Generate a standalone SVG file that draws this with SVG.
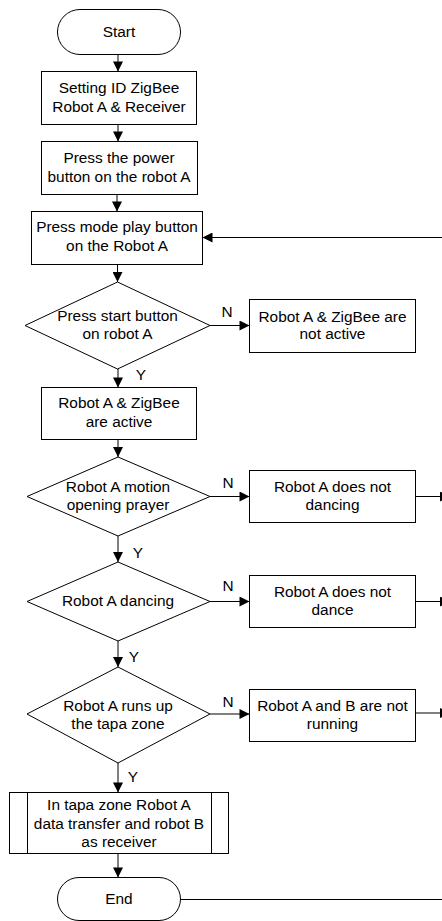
<svg xmlns="http://www.w3.org/2000/svg" width="442" height="921" viewBox="0 0 442 921">
<defs>
<marker id="ah" markerUnits="userSpaceOnUse" markerWidth="11" markerHeight="10" refX="10" refY="5" orient="auto" viewBox="0 0 10 10">
<path d="M0,0 L10,5 L0,10 z" fill="#000"/>
</marker>
</defs>
<style>
.s{fill:#fff;stroke:#000;stroke-width:1}
.t{font-family:"Liberation Sans",Arial,sans-serif;font-size:15.4px;fill:#000;text-anchor:middle}
.c{fill:none;stroke:#000;stroke-width:1}
.a{marker-end:url(#ah)}
</style>
<rect width="442" height="921" fill="#fff"/>
<g id="connectors">
<line class="c a" x1="118" y1="54.5" x2="118" y2="71.5"/>
<line class="c a" x1="118" y1="124.5" x2="118" y2="141.5"/>
<line class="c a" x1="117" y1="194.5" x2="117" y2="211.5"/>
<line class="c a" x1="117.5" y1="264.5" x2="117.5" y2="282"/>
<line class="c a" x1="210" y1="325.5" x2="249.5" y2="325.5"/>
<line class="c a" x1="118" y1="369" x2="118" y2="387.5"/>
<line class="c a" x1="118" y1="439.5" x2="118" y2="457"/>
<line class="c a" x1="210" y1="496.5" x2="249.5" y2="496.5"/>
<line class="c a" x1="118" y1="536" x2="118" y2="562"/>
<line class="c a" x1="210" y1="601.5" x2="249.5" y2="601.5"/>
<line class="c a" x1="118" y1="641" x2="118" y2="667"/>
<line class="c a" x1="210" y1="714" x2="249.5" y2="714"/>
<line class="c a" x1="118" y1="763" x2="118" y2="792.5"/>
<line class="c a" x1="118" y1="853.5" x2="118" y2="877.5"/>
<line class="c a" x1="415.5" y1="496.5" x2="450" y2="496.5"/>
<line class="c a" x1="415.5" y1="601.5" x2="450" y2="601.5"/>
<line class="c a" x1="415.5" y1="713" x2="450" y2="713"/>
<line class="c" x1="180.5" y1="899.5" x2="442" y2="899.5"/>
<line class="c a" x1="442" y1="237.5" x2="202.5" y2="237.5"/>
<text class="t" x="227" y="317">N</text>
<text class="t" x="141" y="380">Y</text>
<text class="t" x="228" y="488">N</text>
<text class="t" x="138" y="558">Y</text>
<text class="t" x="228" y="591">N</text>
<text class="t" x="134" y="662">Y</text>
<text class="t" x="228" y="707">N</text>
<text class="t" x="133" y="782">Y</text>
</g>
<g id="start">
<rect class="s" x="57.5" y="9.5" width="123" height="45" rx="22.5"/>
<text class="t" x="119" y="37">Start</text>
</g>
<g id="setting">
<rect class="s" x="41.5" y="71.5" width="155" height="53"/>
<text class="t" x="119" y="93">Setting ID ZigBee</text>
<text class="t" x="119" y="112">Robot A &amp; Receiver</text>
</g>
<g id="power">
<rect class="s" x="41.5" y="141.5" width="156" height="53"/>
<text class="t" x="119" y="163">Press the power</text>
<text class="t" x="119" y="182">button on the robot A</text>
</g>
<g id="mode">
<rect class="s" x="31.5" y="211.5" width="171" height="53"/>
<text class="t" x="117" y="232">Press mode play button</text>
<text class="t" x="117" y="251">on the Robot A</text>
</g>
<g id="d_start">
<polygon class="s" points="117.5,282 210,325.5 117.5,369 25,325.5"/>
<text class="t" x="117.5" y="321">Press start button</text>
<text class="t" x="117.5" y="339">on robot A</text>
</g>
<g id="not_active">
<rect class="s" x="249.5" y="299.5" width="166" height="53"/>
<text class="t" x="332.5" y="322">Robot A &amp; ZigBee are</text>
<text class="t" x="332.5" y="339">not active</text>
</g>
<g id="active">
<rect class="s" x="41.5" y="387.5" width="155" height="52"/>
<text class="t" x="119" y="408">Robot A &amp; ZigBee</text>
<text class="t" x="119" y="427">are active</text>
</g>
<g id="d_prayer">
<polygon class="s" points="118,457 210,496.5 118,536 27,496.5"/>
<text class="t" x="118" y="492">Robot A motion</text>
<text class="t" x="118" y="510">opening prayer</text>
</g>
<g id="not_dancing">
<rect class="s" x="249.5" y="470.5" width="166" height="52"/>
<text class="t" x="332.5" y="492">Robot A does not</text>
<text class="t" x="332.5" y="510">dancing</text>
</g>
<g id="d_dancing">
<polygon class="s" points="118,562 210,601.5 118,641 27,601.5"/>
<text class="t" x="118" y="606">Robot A dancing</text>
</g>
<g id="not_dance">
<rect class="s" x="249.5" y="575.5" width="166" height="52"/>
<text class="t" x="332.5" y="597">Robot A does not</text>
<text class="t" x="332.5" y="615">dance</text>
</g>
<g id="d_runs">
<polygon class="s" points="118,667 210,714 118,763 27,714"/>
<text class="t" x="118" y="711">Robot A runs up</text>
<text class="t" x="118" y="729">the tapa zone</text>
</g>
<g id="not_running">
<rect class="s" x="249.5" y="689.5" width="166" height="52"/>
<text class="t" x="332.5" y="711">Robot A and B are not</text>
<text class="t" x="332.5" y="729">running</text>
</g>
<g id="transfer">
<rect class="s" x="9.5" y="792.5" width="219" height="61"/>
<line class="c" x1="27.5" y1="792.5" x2="27.5" y2="853.5"/>
<line class="c" x1="211.5" y1="792.5" x2="211.5" y2="853.5"/>
<text class="t" x="119" y="810">In tapa zone Robot A</text>
<text class="t" x="119" y="829">data transfer and robot B</text>
<text class="t" x="119" y="847">as receiver</text>
</g>
<g id="end">
<rect class="s" x="57.5" y="877.5" width="123" height="43" rx="21.5"/>
<text class="t" x="119" y="904">End</text>
</g>
</svg>
